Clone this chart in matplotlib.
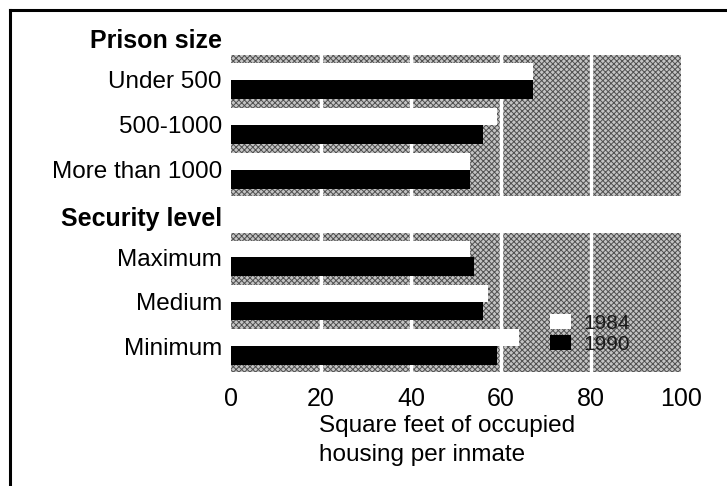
import matplotlib as mpl
from matplotlib import pyplot as plt
from matplotlib.lines import Line2D
import numpy as np

size_labels = ["Under 500", "500-1000", "More than 1000"]
size_1984 = [67, 59, 53]
size_1990 = [67, 56, 53]

security_labels = ["Maximum", "Medium", "Minimum"]
security_1984 = [53, 57, 64]
security_1990 = [54, 56, 59]

x_ticks = [0, 20, 40, 60, 80, 100]
grid_x = [20, 40, 60, 80]

plt.rcParams['font.family'] = ['Liberation Sans', 'DejaVu Sans']
plt.rcParams['hatch.linewidth'] = 0.7
plt.rcParams['hatch.color'] = '#505050'

W, H = 727, 486
fig = plt.figure(figsize=(W / 100, H / 100), dpi=100)


def px_axes(left, top, right, bottom):
    return fig.add_axes([left / W, 1 - bottom / H, (right - left) / W, (bottom - top) / H])


def panel(ax, labels, v84, v90):
    y = np.arange(len(labels))
    ax.set_facecolor('#c4c4c4')
    ax.add_patch(mpl.patches.Rectangle((0, 0), 1, 1, transform=ax.transAxes,
                                       facecolor='none', hatch='xxxxxx', lw=0, zorder=0))
    for gx in grid_x:
        ax.axvline(gx, color='white', lw=2.5, zorder=1)
    ax.barh(y - 0.19, v84, height=0.38, color='white', zorder=3, label='1984')
    ax.barh(y + 0.21, v90, height=0.42, color='black', zorder=3, label='1990')
    ax.set_xlim(0, 100)
    ax.set_ylim(2.58, -0.55)
    ax.set_yticks(y, labels)
    ax.tick_params(axis='y', length=0, pad=6.5, labelsize=17.5)
    ax.tick_params(axis='x', length=0)
    for s in ax.spines.values():
        s.set_visible(False)


ax1 = px_axes(231, 55, 681, 196)
ax2 = px_axes(231, 233, 681, 372)
panel(ax1, size_labels, size_1984, size_1990)
panel(ax2, security_labels, security_1984, security_1990)

ax1.set_xticks(x_ticks, [])
ax2.set_xticks(x_ticks, [str(t) for t in x_ticks])
ax2.tick_params(axis='x', labelsize=18, pad=11)

fig.text(222 / W, 1 - 48 / H, "Prison size", ha='right', va='baseline',
         fontsize=18, fontweight='bold')
fig.text(222 / W, 1 - 226 / H, "Security level", ha='right', va='baseline',
         fontsize=18, fontweight='bold')
fig.text(319 / W, 1 - 415 / H, "Square feet of occupied\nhousing per inmate",
         ha='left', va='top', fontsize=17.5, linespacing=1.4)

ax2.legend(loc='upper left', bbox_to_anchor=(550 / W, 1 - 314 / H),
           bbox_transform=fig.transFigure, frameon=False, fontsize=15,
           borderpad=0, borderaxespad=0, handlelength=1.0, handleheight=0.75,
           handletextpad=0.6, labelspacing=0.1, labelcolor='#1a1a1a')

# frame lines of the scanned figure
fig.add_artist(Line2D([10 / W, 1], [1 - 10 / H, 1 - 10 / H], color='black', lw=2.2))
fig.add_artist(Line2D([10 / W, 10 / W], [0, 1 - 10 / H], color='black', lw=2.2))

fig.savefig("out.png", dpi=100)
